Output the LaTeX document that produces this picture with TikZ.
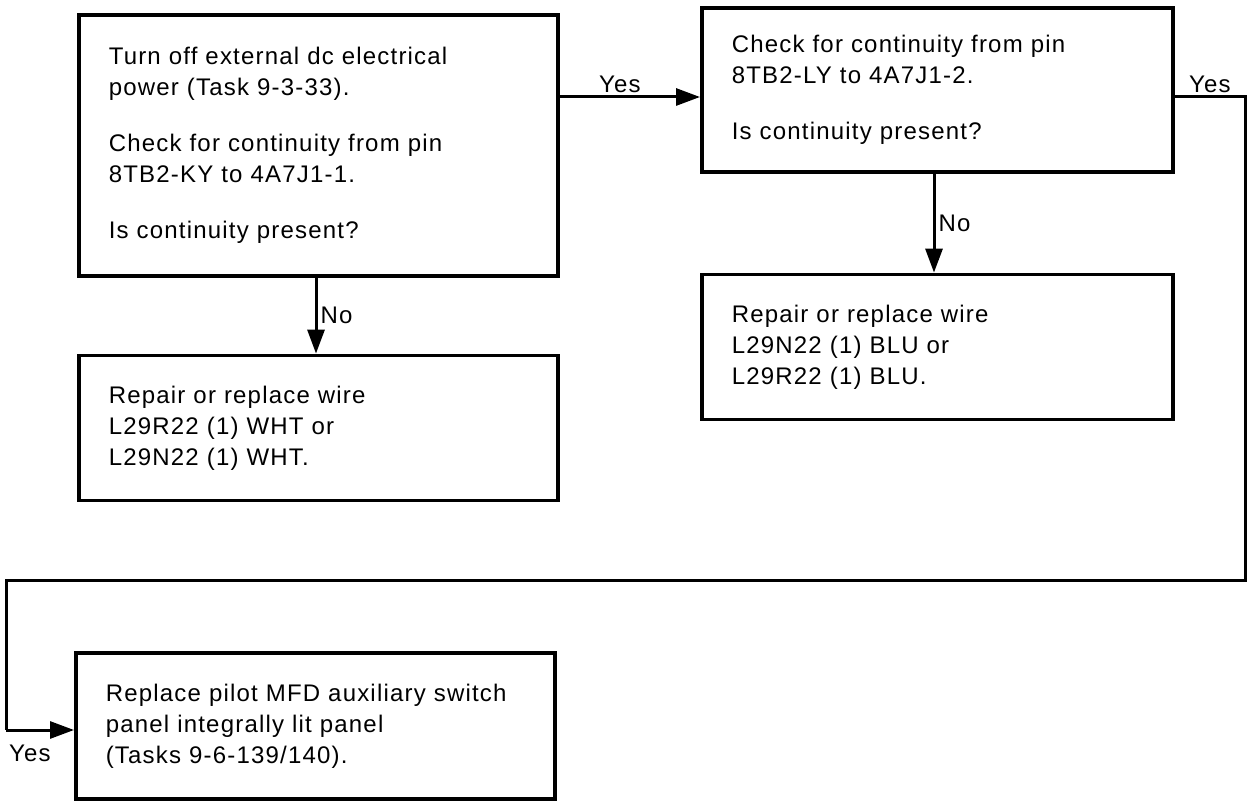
\documentclass[tikz,border=0pt]{standalone}
\usepackage{fontspec}
\setmainfont{Liberation Sans}[LetterSpace=5]
\usetikzlibrary{arrows.meta,positioning}

\begin{document}
\begin{tikzpicture}[x=1pt,y=-1pt,
 box/.style={draw,line width=3.6pt,align=left,anchor=north west,inner xsep=30pt,
             font=\fontsize{24}{31}\selectfont},
 arrow/.style={-{Triangle[length=24pt,width=17pt]},line width=3pt},
 wire/.style={line width=3pt},
 lbl/.style={font=\fontsize{24}{26}\selectfont,inner sep=3pt}]
\useasboundingbox (0,0) rectangle (1251,802);
\node[box,text width=419pt,minimum height=261pt] (chk1) at (77,13)
  {Turn off external dc electrical\\power (Task 9-3-33).\\[25pt]
   Check for continuity from pin\\8TB2-KY to 4A7J1-1.\\[25pt]
   Is continuity present?};
\node[box,text width=419pt,minimum height=145pt,below=76pt of chk1] (fix1)
  {Repair or replace wire\\L29R22 (1) WHT or\\L29N22 (1) WHT.};
\node[box,text width=411pt,minimum height=164pt] (chk2) at (700,6)
  {Check for continuity from pin\\8TB2-LY to 4A7J1-2.\\[25pt]
   Is continuity present?};
\node[box,text width=411pt,minimum height=145pt,below=99pt of chk2] (fix2)
  {Repair or replace wire\\L29N22 (1) BLU or\\L29R22 (1) BLU.};
\node[box,text width=419pt,minimum height=146pt] (fin) at (74,651)
  {Replace pilot MFD auxiliary switch\\panel integrally lit panel\\(Tasks 9-6-139/140).};
\coordinate (c1) at (1245,97);
\coordinate (c2) at (1245,580);
\coordinate (c3) at (6,580);
\coordinate (c4) at (6,730);
% connectors
\draw[arrow] (chk1.east |- 0,97) -- node[lbl,above,xshift=-10pt] (y1) {Yes} (chk2.west |- 0,97);
\draw[arrow] (chk1.south -| 316,0) -- node[lbl,right] (n1) {No} (fix1.north -| 316,0);
\draw[arrow] (chk2.south -| 934,0) -- node[lbl,right] (n2) {No} (fix2.north -| 934,0);
\draw[wire] (chk2.east |- c1) -- node[lbl,above] (y2) {Yes} (c1) -- (c2) -- (c3) -- (c4);
\draw[arrow] (c4) -- node[lbl,below=10pt,pos=0.35] (y3) {Yes} (fin.west |- c4);
\end{tikzpicture}
\end{document}
